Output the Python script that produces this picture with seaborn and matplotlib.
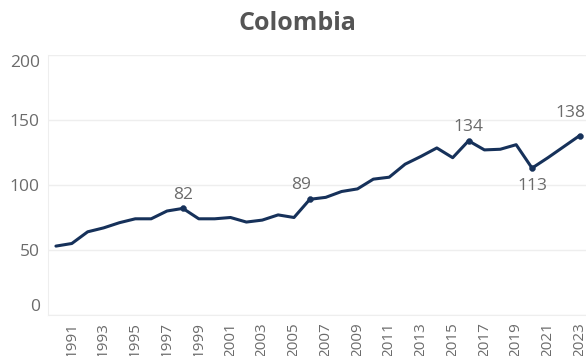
import matplotlib
matplotlib.use("Agg")
import matplotlib.pyplot as plt
import seaborn as sns
import pandas as pd

years = list(range(1990, 2024))
values = [53, 55, 64, 67, 71, 74, 74, 80, 82, 74, 74, 75, 71.5, 73, 77, 75,
          89, 90.5, 95, 97, 104.5, 106, 116, 122, 128.5, 121, 134, 127, 127.5,
          131, 113, 121, 129.5, 138]
label_years = [1998, 2006, 2016, 2020, 2023]
label_offsets = [(0, 10), (-6.5, 10), (0, 10), (0, -13), (-6.5, 16)]
tick_years = list(range(1991, 2024, 2))
y_ticks = [0, 50, 100, 150, 200]
title = "Colombia"

df = pd.DataFrame({"year": years, "value": values})

sns.set_style("white")
plt.rcParams['font.family'] = ['Open Sans', 'DejaVu Sans']

fig = plt.figure(figsize=(5.86, 3.56), dpi=100)
ax = fig.add_axes([48/586, 41/356, 1 - 48/586, (315-55)/356])

line_color = "#16315a"
sns.lineplot(data=df, x="year", y="value", ax=ax, color=line_color, linewidth=2.2)

ldf = df[df["year"].isin(label_years)]
sns.scatterplot(data=ldf, x="year", y="value", ax=ax, color=line_color, s=18,
                edgecolor=line_color, zorder=5)
for yr, off in zip(label_years, label_offsets):
    v = df.loc[df["year"] == yr, "value"].iloc[0]
    ax.annotate(f"{int(round(v))}", (yr, v), xytext=off, textcoords="offset points",
                ha="center", va="center", fontsize=12.5, color="#6b6b6b")

ax.set_xlim(1989.5, 2023.4)
ax.set_ylim(0, 200)
ax.set_yticks(y_ticks)
ax.set_yticklabels([str(t) for t in y_ticks])
ax.set_xticks(tick_years)
ax.set_xticklabels([str(t) for t in tick_years], rotation=90)
ax.set_xticks(years, minor=True)
ax.tick_params(axis="y", length=0, labelsize=12.5, labelcolor="#6b6b6b", pad=6)
ax.tick_params(axis="x", which="both", length=4, color="#e6e6e6", labelsize=11,
               labelcolor="#6b6b6b", pad=1)
ylabels = ax.get_yticklabels()
ylabels[0].set_va("bottom")
ylabels[-1].set_va("top")
ax.grid(axis="y", color="#eeeeee", linewidth=1)
ax.set_xlabel("")
ax.set_ylabel("")
for s in ["top", "right"]:
    ax.spines[s].set_visible(False)
ax.spines["left"].set_color("#eeeeee")
ax.spines["bottom"].set_color("#eeeeee")

fig.text(297/586, 1 - 23/356, title, ha="center", va="center", fontsize=18,
         fontweight="bold", color="#555555")

fig.savefig("out.png", dpi=100)
